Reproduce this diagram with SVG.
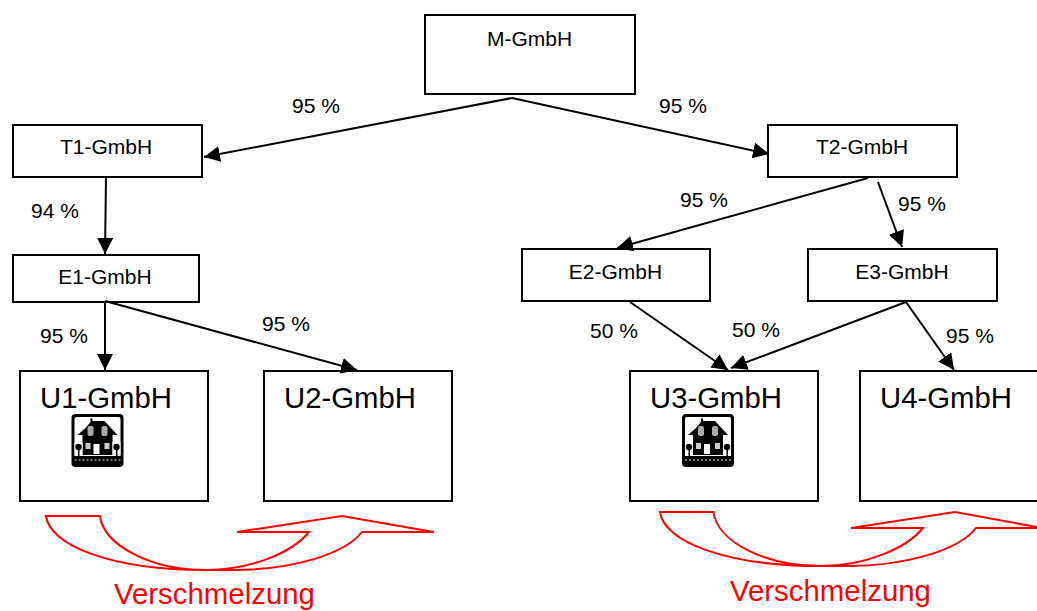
<svg xmlns="http://www.w3.org/2000/svg" xmlns:xlink="http://www.w3.org/1999/xlink" width="1037" height="611" viewBox="0 0 1037 611">
<style>
.box{fill:#fff;stroke:#000;stroke-width:2}
.t{font-family:"Liberation Sans",Arial,sans-serif;fill:#000}
.s{font-size:21px;text-anchor:middle}
.p{font-size:21px}
.b{font-size:29.3px}
.v{font-family:"Liberation Sans",Arial,sans-serif;font-size:29.4px;fill:#f00}
.c{fill:none;stroke:#000;stroke-width:2}
.r{fill:none;stroke:#f00;stroke-width:2}
</style>
<defs>
<marker id="a" markerUnits="userSpaceOnUse" markerWidth="18" markerHeight="16" refX="16" refY="8" orient="auto"><path d="M0,0L16,8L0,16Z" fill="#000"/></marker>
<g id="house">
<rect x="0" y="0" width="52" height="53" rx="4" fill="#000"/>
<rect x="3" y="3" width="46" height="39" rx="2" fill="#fff"/>
<path d="M6,21L14,14L19,8V4.500H21V7L33,7L46,21H41V41H11V21Z" fill="#000"/>
<rect x="16" y="12" width="6" height="10" rx="2" fill="#aaa"/><rect x="30" y="12" width="6" height="10" rx="2" fill="#aaa"/>
<rect x="14" y="29" width="5" height="6" fill="#ccc"/><rect x="33" y="29" width="5" height="6" fill="#ccc"/>
<rect x="22" y="30" width="6" height="10" fill="#fff"/>
<rect x="3" y="28" width="8" height="14" fill="#fff"/><rect x="41" y="28" width="8" height="14" fill="#fff"/>
<circle cx="7" cy="33" r="3.200" fill="#000"/><circle cx="45" cy="33" r="3.200" fill="#000"/>
<rect x="6.500" y="33" width="1.500" height="9" fill="#000"/><rect x="44.500" y="33" width="1.500" height="9" fill="#000"/>
<path d="M3,46H49" stroke="#999" stroke-width="1.500" stroke-dasharray="2 2"/>
</g>
</defs>
<g id="m"><rect class="box" x="425" y="15" width="210" height="79"/><text class="t s" x="529.500" y="46">M-GmbH</text></g>
<g id="t1"><rect class="box" x="13" y="125" width="189" height="52"/><text class="t s" x="106" y="154">T1-GmbH</text></g>
<g id="t2"><rect class="box" x="768" y="125" width="189" height="52"/><text class="t s" x="862" y="154">T2-GmbH</text></g>
<g id="e1"><rect class="box" x="13" y="255" width="186" height="47"/><text class="t s" x="105" y="284">E1-GmbH</text></g>
<g id="e2"><rect class="box" x="522" y="249" width="188" height="52"/><text class="t s" x="615.500" y="279">E2-GmbH</text></g>
<g id="e3"><rect class="box" x="808" y="249" width="189" height="52"/><text class="t s" x="902" y="279">E3-GmbH</text></g>
<g id="u1"><rect class="box" x="20" y="371" width="188" height="130"/><text class="t b" x="40" y="408">U1-GmbH</text><use xlink:href="#house" href="#house" x="71.500" y="414"/></g>
<g id="u2"><rect class="box" x="264" y="371" width="188" height="130"/><text class="t b" x="284" y="408">U2-GmbH</text></g>
<g id="u3"><rect class="box" x="630" y="371" width="188" height="130"/><text class="t b" x="650" y="408">U3-GmbH</text><use xlink:href="#house" href="#house" x="682" y="414"/></g>
<g id="u4"><rect class="box" x="860" y="371" width="188" height="130"/><text class="t b" x="880" y="408">U4-GmbH</text></g>
<g id="connectors">
<path class="c" marker-end="url(#a)" d="M512,98L204,157"/>
<path class="c" marker-end="url(#a)" d="M512,98L769,154"/>
<path class="c" marker-end="url(#a)" d="M106,178L105,254"/>
<path class="c" marker-end="url(#a)" d="M105,301V370"/>
<path class="c" marker-end="url(#a)" d="M105,301L357,370"/>
<path class="c" marker-end="url(#a)" d="M868,178L617,248"/>
<path class="c" marker-end="url(#a)" d="M878,182L902,247"/>
<path class="c" marker-end="url(#a)" d="M630,302L728,370"/>
<path class="c" marker-end="url(#a)" d="M906,302L731,368"/>
<path class="c" marker-end="url(#a)" d="M906,302L954,370"/>
</g>
<g id="labels">
<text class="t p" x="292" y="113">95 %</text>
<text class="t p" x="659" y="113">95 %</text>
<text class="t p" x="31" y="218">94 %</text>
<text class="t p" x="680" y="207">95 %</text>
<text class="t p" x="898" y="211">95 %</text>
<text class="t p" x="40" y="343">95 %</text>
<text class="t p" x="262" y="331">95 %</text>
<text class="t p" x="590" y="338">50 %</text>
<text class="t p" x="732" y="337">50 %</text>
<text class="t p" x="946" y="343">95 %</text>
</g>
<g id="merge-left">
<path class="r" d="M46,516H100C104,545 150,570 206,570C250,570 292,553 309,532H237L342,516L434,532H362C344,555 290,570 233,570H206C110,570 50,545 46,516Z"/>
<text class="v" x="114" y="604">Verschmelzung</text>
</g>
<g id="merge-right">
<path class="r" d="M660,512H713.500C717,541 764,566 821,566C864,566 906,549 923,528H851L955,512L1037,527V528H976C958,551 904,566 847,566H821C724,566 664,541 660,512Z"/>
<text class="v" x="730" y="601">Verschmelzung</text>
</g>
</svg>
